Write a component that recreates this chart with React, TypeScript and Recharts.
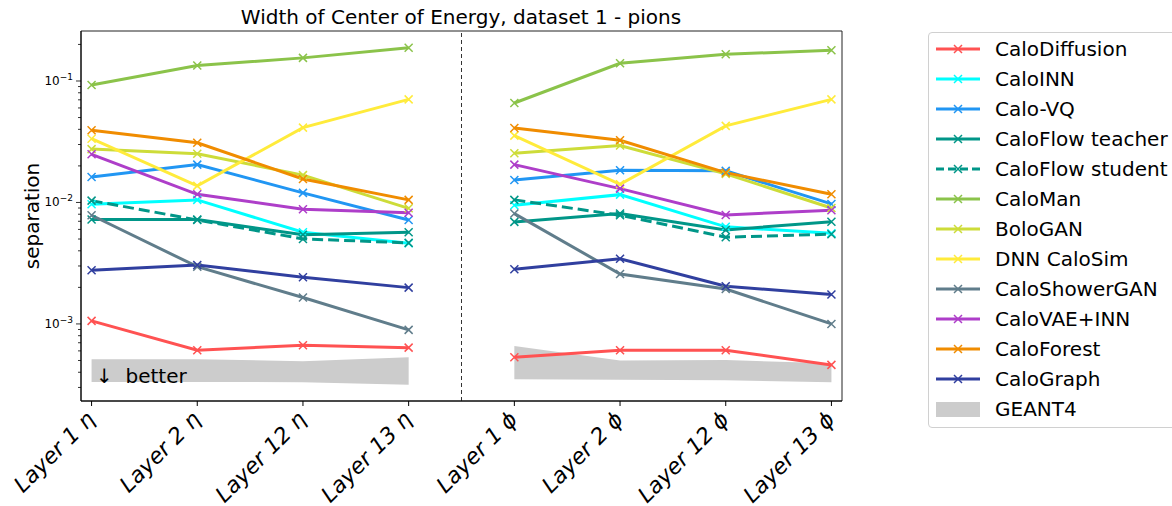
import React from 'react'
import { ComposedChart, Line, Area, XAxis, YAxis, ReferenceLine, ReferenceArea } from 'recharts'

const categories = ['Layer 1 η', 'Layer 2 η', 'Layer 12 η', 'Layer 13 η', 'Layer 1 ϕ', 'Layer 2 ϕ', 'Layer 12 ϕ', 'Layer 13 ϕ']

const caloDiffusion = [0.00106, 0.000607, 0.000667, 0.000638, 0.000532, 0.000608, 0.000608, 0.00046]
const caloINN = [0.00966, 0.0105, 0.00569, 0.00462, 0.0095, 0.0116, 0.0063, 0.00557]
const caloVQ = [0.0162, 0.0205, 0.012, 0.00718, 0.0153, 0.0184, 0.0182, 0.00973]
const caloFlowTeacher = [0.00723, 0.00723, 0.00543, 0.00569, 0.00692, 0.0081, 0.00594, 0.00695]
const caloFlowStudent = [0.01035, 0.00718, 0.00501, 0.00465, 0.0105, 0.00785, 0.00518, 0.00548]
const caloMan = [0.0927, 0.134, 0.155, 0.188, 0.0659, 0.14, 0.166, 0.179]
const boloGAN = [0.0275, 0.0252, 0.0168, 0.00895, 0.0254, 0.0294, 0.0172, 0.00901]
const dnnCaloSim = [0.0335, 0.0137, 0.0413, 0.0706, 0.0355, 0.0141, 0.0427, 0.0706]
const caloShowerGAN = [0.00785, 0.00296, 0.00165, 0.000893, 0.0081, 0.00258, 0.00194, 0.001]
const caloVAEINN = [0.0249, 0.01167, 0.0088, 0.00824, 0.0205, 0.013, 0.00789, 0.00863]
const caloForest = [0.0393, 0.031, 0.0156, 0.0105, 0.041, 0.0325, 0.0176, 0.01167]
const caloGraph = [0.00277, 0.00306, 0.00242, 0.00199, 0.00282, 0.00344, 0.00204, 0.00175]
const geantLow = [0.000333, 0.000333, 0.000331, 0.000315, 0.000351, 0.000347, 0.000344, 0.000331]
const geantHigh = [0.000512, 0.000512, 0.000493, 0.000532, 0.000659, 0.000499, 0.000504, 0.000475]

const series = [
  { key: 'CaloDiffusion', values: caloDiffusion, color: '#FF5252' },
  { key: 'CaloINN', values: caloINN, color: '#00FFFF' },
  { key: 'Calo-VQ', values: caloVQ, color: '#2196F3' },
  { key: 'CaloFlow teacher', values: caloFlowTeacher, color: '#009688' },
  { key: 'CaloFlow student', values: caloFlowStudent, color: '#009688', dashed: true },
  { key: 'CaloMan', values: caloMan, color: '#8BC34A' },
  { key: 'BoloGAN', values: boloGAN, color: '#CDDC39' },
  { key: 'DNN CaloSim', values: dnnCaloSim, color: '#FFEB3B' },
  { key: 'CaloShowerGAN', values: caloShowerGAN, color: '#607D8B' },
  { key: 'CaloVAE+INN', values: caloVAEINN, color: '#AE3EC9' },
  { key: 'CaloForest', values: caloForest, color: '#F08C00' },
  { key: 'CaloGraph', values: caloGraph, color: '#303F9F' },
]

// 8 rows plus a null row at 3.5 so the eta and phi halves are not joined
const data: any[] = []
categories.forEach((c, i) => {
  if (i === 4) {
    const gap: any = { x: 3.5, geant: null }
    series.forEach(s => { gap[s.key] = null })
    data.push(gap)
  }
  const row: any = { x: i, geant: [geantLow[i], geantHigh[i]] }
  series.forEach(s => { row[s.key] = s.values[i] })
  data.push(row)
})

const Y_MIN = 2.32e-4
const Y_MAX = 0.258
const majorTicks = [1e-3, 1e-2, 1e-1]
const yTicks: number[] = []
;[1e-4, 1e-3, 1e-2, 1e-1].forEach(d => {
  for (let m = 1; m < 10; m++) {
    const v = d * m
    if (v >= Y_MIN && v <= Y_MAX) yTicks.push(v)
  }
})

const FONT = 'DejaVu Sans, sans-serif'

const YTick = (props: any) => {
  const { x, y, payload } = props
  const v = payload.value
  const major = majorTicks.some(t => Math.abs(t - v) / t < 1e-6)
  const exp = Math.round(Math.log10(v))
  return (
    <g>
      <line x1={x - (major ? 5 : 3)} x2={x} y1={y} y2={y} stroke="#000" strokeWidth={0.8} />
      {major && (
        <text x={x - 8} y={y + 4} textAnchor="end" fontSize={12} fontFamily={FONT} fill="#000">
          <tspan>10</tspan>
          <tspan dy={-5} fontSize={9}>{'\u2212' + Math.abs(exp)}</tspan>
        </text>
      )}
    </g>
  )
}

const XTick = (props: any) => {
  const { x, y, payload } = props
  return (
    <g transform={`translate(${x - 4},${y})`}>
      <text textAnchor="end" transform="rotate(-45)" dy={15} dx={-3} fontSize={22} fontStyle="italic" fontFamily={FONT} fill="#000">
        {categories[payload.value]}
      </text>
    </g>
  )
}

const XMark = (props: any) => {
  const { cx, cy, stroke, index } = props
  if (cx == null || cy == null || props.value == null) return <g key={index} />
  const r = 4
  return (
    <path key={index} d={`M${cx - r},${cy - r}L${cx + r},${cy + r}M${cx - r},${cy + r}L${cx + r},${cy - r}`} stroke={stroke} strokeWidth={1.5} fill="none" />
  )
}

const Legend = () => (
  <div style={{ position: 'absolute', left: 928, top: 32, width: 260, height: 396, border: '1px solid #d0d0d0', borderRadius: 4, background: '#fff', boxSizing: 'border-box' }}>
    {series.map((s, i) => (
      <div key={s.key} style={{ position: 'absolute', left: 6, top: 16 + i * 30 - 13, height: 26, display: 'flex', alignItems: 'center' }}>
        <svg width={46} height={26}>
          <line x1={1} x2={45} y1={13} y2={13} stroke={s.color} strokeWidth={3} strokeDasharray={s.dashed ? '8 4' : undefined} />
          <path d="M19,9L27,17M19,17L27,9" stroke={s.color} strokeWidth={1.5} />
        </svg>
        <span style={{ marginLeft: 14, fontFamily: FONT, fontSize: 20, color: '#000', whiteSpace: 'nowrap' }}>{s.key}</span>
      </div>
    ))}
    <div style={{ position: 'absolute', left: 6, top: 16 + 12 * 30 - 13, height: 26, display: 'flex', alignItems: 'center' }}>
      <div style={{ width: 44, height: 15, background: '#CCCCCC', marginLeft: 1 }} />
      <span style={{ marginLeft: 15, fontFamily: FONT, fontSize: 20, color: '#000' }}>GEANT4</span>
    </div>
  </div>
)

const App = () => {
  return (
    <div style={{ position: 'absolute', left: 0, top: 0, width: 1172, height: 506, background: '#fff', overflow: 'hidden' }}>
      <ComposedChart width={1172} height={506} data={data} margin={{ top: 31, right: 330, bottom: 0, left: 21 }}>
        <XAxis
          dataKey="x"
          type="number"
          domain={[-0.1, 7.1]}
          ticks={[0, 1, 2, 3, 4, 5, 6, 7]}
          interval={0}
          allowDataOverflow
          height={105}
          tickSize={5}
          tickMargin={2}
          stroke="#000"
          tick={<XTick />}
        />
        <YAxis
          type="number"
          scale="log"
          domain={[Y_MIN, Y_MAX]}
          allowDataOverflow
          ticks={yTicks}
          interval={0}
          width={60}
          tickLine={false}
          tickSize={0}
          tickMargin={0}
          stroke="#000"
          tick={<YTick />}
        />
        <ReferenceArea x1={-0.1} x2={7.1} y1={Y_MIN} y2={Y_MAX} fill="none" stroke="#222" strokeWidth={1} ifOverflow="visible" />
        <Area type="linear" dataKey="geant" stroke="none" fill="#CCCCCC" fillOpacity={1} isAnimationActive={false} connectNulls={false} dot={false} activeDot={false} />
        {series.map(s => (
          <Line
            key={s.key}
            type="linear"
            dataKey={s.key}
            stroke={s.color}
            strokeWidth={3}
            strokeDasharray={s.dashed ? '11 5' : undefined}
            dot={<XMark />}
            activeDot={false}
            connectNulls={false}
            isAnimationActive={false}
          />
        ))}
        <ReferenceLine x={3.5} stroke="#333" strokeDasharray="4 3" strokeWidth={1} />
      </ComposedChart>
      <svg width={1172} height={506} style={{ position: 'absolute', left: 0, top: 0, pointerEvents: 'none' }}>
        <text x={461} y={24} textAnchor="middle" fontSize={20} fontFamily={FONT} fill="#000">
          Width of Center of Energy, dataset 1 - pions
        </text>
        <text transform="translate(39,216) rotate(-90)" textAnchor="middle" fontSize={20} fontFamily={FONT} fill="#000">
          separation
        </text>
        <text x={96} y={383} fontSize={20} fontFamily={FONT} fill="#000" style={{ whiteSpace: 'pre' }}>
          {'↓  better'}
        </text>
      </svg>
      <Legend />
    </div>
  )
}

export default App
